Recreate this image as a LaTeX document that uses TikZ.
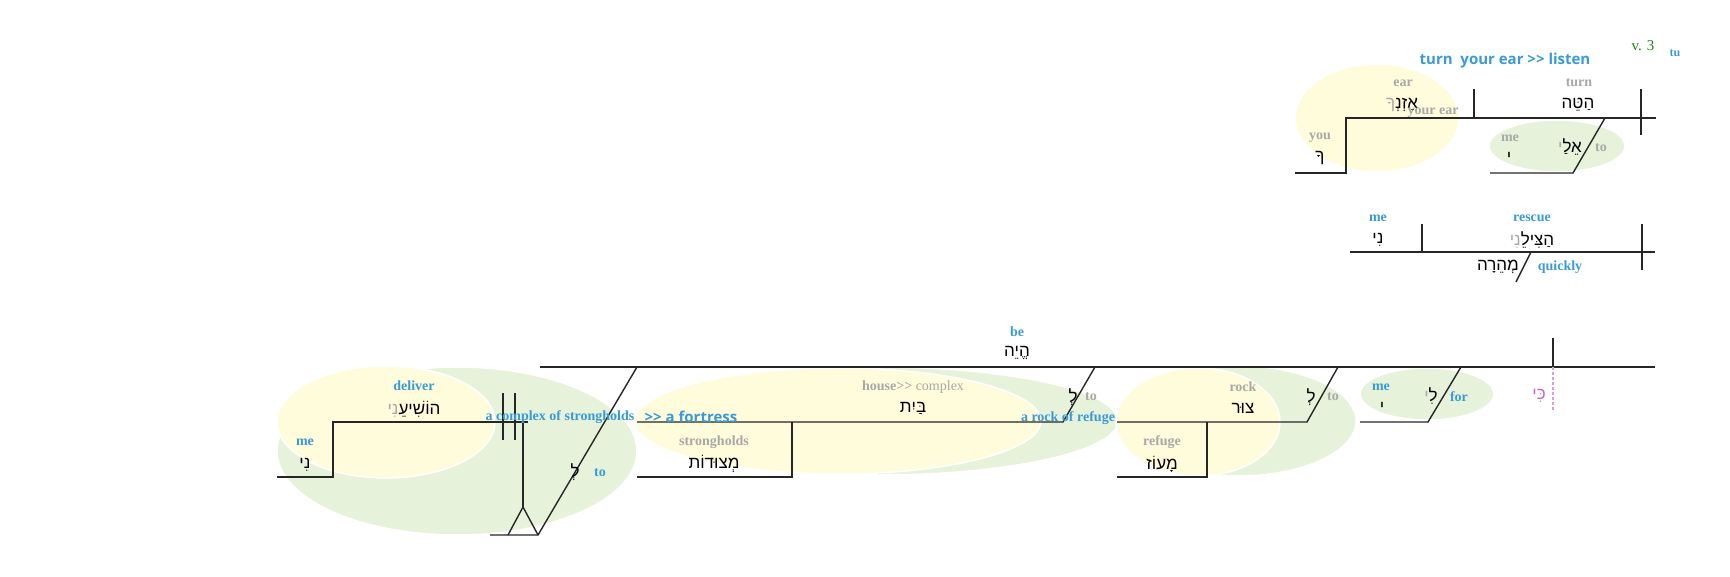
\documentclass[tikz,border=0pt]{standalone}
\usepackage{fontspec}
\setmainfont{Liberation Serif}
\newfontfamily\heb[Script=Hebrew]{Liberation Sans}
\newfontfamily\opsans{Open Sans}
\definecolor{lblue}{HTML}{3A9AD9}
\definecolor{lgray}{HTML}{A8A8A8}
\definecolor{vgreen}{HTML}{2E7D1E}
\definecolor{kipink}{HTML}{D064B4}
\definecolor{dashpink}{HTML}{E69CD2}
\definecolor{yelfill}{HTML}{FFFCDC}
\definecolor{grnfill}{HTML}{E6F2DA}
\tikzset{
  gl/.style={text=lgray,font=\bfseries\fontsize{14}{16}\selectfont,inner sep=0pt},
  bl/.style={text=lblue,font=\bfseries\fontsize{14}{16}\selectfont,inner sep=0pt},
  hb/.style={font=\heb\fontsize{17}{20}\selectfont,inner sep=0pt},
  ln/.style={line width=1.4pt,draw=black!85},
  yblob/.style={fill=yelfill,draw=white,line width=1.5pt},
  gblob/.style={fill=grnfill,draw=white,line width=1.5pt},
}
\begin{document}
\begin{tikzpicture}[x=1pt,y=-1pt]
  \useasboundingbox (0,0) rectangle (1730,577);
  % blobs
  \path[yblob] (1377,118) ellipse [x radius=82pt,y radius=54pt];
  \path[gblob] (1557,146) ellipse [x radius=68pt,y radius=26pt];
  \path[gblob] (457,451) ellipse [x radius=180pt,y radius=84pt];
  \path[yblob] (386,422) ellipse [x radius=109pt,y radius=56pt];
  \path[gblob] (878,421) ellipse [x radius=240pt,y radius=54pt];
  \path[yblob] (838,421) ellipse [x radius=203pt,y radius=53pt];
  \path[gblob] (1238,421) ellipse [x radius=118pt,y radius=55pt];
  \path[yblob] (1198,422) ellipse [x radius=82pt,y radius=54pt];
  \path[gblob] (1427,394) ellipse [x radius=67pt,y radius=26pt];

  % v. 3 a
  \coordinate (a0) at (1295,173);
  \coordinate (a1) at (1346,173);
  \coordinate (a2) at (1346,118);
  \coordinate (a3) at (1656,118);
  \coordinate (a4) at (1474,89);
  \coordinate (a5) at (1474,118);
  \coordinate (a6) at (1641,89);
  \coordinate (a7) at (1641,135);
  \coordinate (a8) at (1605,118);
  \coordinate (a9) at (1573,173);
  \coordinate (a10) at (1490,173);
  \draw[ln] (a0) -- (a1) -- (a2) -- (a3);
  \draw[ln] (a4) -- (a5);
  \draw[ln] (a6) -- (a7);
  \draw[ln] (a8) -- (a9) -- (a10);

  % v. 3 b
  \coordinate (b0) at (1350,252);
  \coordinate (b1) at (1655,252);
  \coordinate (b2) at (1422,224);
  \coordinate (b3) at (1422,252);
  \coordinate (b4) at (1642,224);
  \coordinate (b5) at (1642,270);
  \coordinate (b6) at (1531,252);
  \coordinate (b7) at (1516,282);
  \draw[ln] (b0) -- (b1);
  \draw[ln] (b2) -- (b3);
  \draw[ln] (b4) -- (b5);
  \draw[ln] (b6) -- (b7);

  % v. 3 c
  \coordinate (c0) at (540,367);
  \coordinate (c1) at (1655,367);
  \coordinate (c2) at (1553,338);
  \coordinate (c3) at (1553,367);
  \coordinate (c4) at (1553,412);
  \coordinate (c5) at (1461,367);
  \coordinate (c6) at (1428,422);
  \coordinate (c7) at (1360,422);
  \coordinate (c8) at (1338,367);
  \coordinate (c9) at (1307,422);
  \coordinate (c10) at (1117,422);
  \coordinate (c11) at (1207,422);
  \coordinate (c12) at (1207,477);
  \coordinate (c13) at (1117,477);
  \coordinate (c14) at (1095,367);
  \coordinate (c15) at (1063,422);
  \coordinate (c16) at (637,422);
  \coordinate (c17) at (792,422);
  \coordinate (c18) at (792,477);
  \coordinate (c19) at (637,477);
  \coordinate (c20) at (637,367);
  \coordinate (c21) at (538,535);
  \coordinate (c22) at (490,535);
  \coordinate (c23) at (523,507);
  \coordinate (c24) at (508,535);
  \coordinate (c25) at (523,422);
  \coordinate (c26) at (333,422);
  \coordinate (c27) at (528,422);
  \coordinate (c28) at (333,477);
  \coordinate (c29) at (277,477);
  \coordinate (c30) at (503,393);
  \coordinate (c31) at (503,440);
  \coordinate (c32) at (515,393);
  \coordinate (c33) at (515,440);
  \draw[ln] (c0) -- (c1);
  \draw[ln] (c2) -- (c3);
  \draw[dashpink,line width=1.2pt,dash pattern=on 3pt off 2pt] (c3) -- (c4);
  \draw[ln] (c5) -- (c6) -- (c7);
  \draw[ln] (c8) -- (c9) -- (c10);
  \draw[ln] (c11) -- (c12) -- (c13);
  \draw[ln] (c14) -- (c15) -- (c16);
  \draw[ln] (c17) -- (c18) -- (c19);
  \draw[ln] (c20) -- (c21) -- (c22);
  \draw[ln] (c23) -- (c24);
  \draw[ln] (c23) -- (c21);
  \draw[ln] (c25) -- (c23);
  \draw[ln] (c29) -- (c28) -- (c26) -- (c27);
  \draw[ln] (c30) -- (c31);
  \draw[ln] (c32) -- (c33);

  % texts v. 3 a
  \node[bl,font=\opsans\bfseries\fontsize{15}{18}\selectfont] (gloss) at (1505,61) {turn~ your ear >{}> listen};
  \node[text=vgreen,font=\fontsize{15}{18}\selectfont,inner sep=0pt] (vs) at (1643,46) {v. 3};
  \node[bl,font=\bfseries\fontsize{12}{14}\selectfont] (tu) at (1675,53) {tu};
  \node[gl] (ear) at (1403,83) {ear};
  \node[hb] (ozen) at (1402,105) {{\color{lgray}ךָ}אָזְנְ};
  \node[gl] (yourear) at (1433,113) {your ear};
  \node[gl] (turn) at (1579,83) {turn};
  \node[hb] (hatteh) at (1578,105) {הַטֵּה};
  \node[gl] (you) at (1320,138) {you};
  \node[hb] (ka) at (1320,158) {ךָ};
  \node[gl] (me1) at (1510,138) {me};
  \node[hb] (yod1) at (1509,157) {י};
  \node[hb] (elay) at (1570,147) {{\color{lgray}י}אֵלַ};
  \node[gl] (to1) at (1601,148) {to};

  % texts v. 3 b
  \node[bl] (me2) at (1378,218) {me};
  \node[hb] (ni1) at (1378,240) {נִי};
  \node[bl] (rescue) at (1532,218) {rescue};
  \node[hb] (hatsileni) at (1532,240) {{\color{lgray}נִי}הַצִּילֵ};
  \node[hb] (mehera) at (1498,267) {מְהֵרָה};
  \node[bl] (quickly) at (1560,267) {quickly};

  % texts v. 3 c
  \node[bl] (be) at (1017,332) {be};
  \node[hb] (heyeh) at (1017,353) {הֱיֵה};
  \node[bl] (me3) at (1381,387) {me};
  \node[hb] (yod2) at (1382,407) {י};
  \node[hb] (li) at (1431,396) {{\color{lgray}י}לִ};
  \node[bl] (for) at (1459,397) {for};
  \node[hb,text=kipink] (ki) at (1539,396) {כִּי};
  \node[gl] (rock) at (1243,387) {rock};
  \node[hb] (tsur) at (1243,408) {צוּר};
  \node[hb] (le1) at (1311,397) {לְ};
  \node[gl] (to2) at (1333,397) {to};
  \node[gl] (refuge) at (1162,442) {refuge};
  \node[hb] (maoz) at (1162,464) {מָעוֹז};
  \node[hb] (le2) at (1073,397) {לְ};
  \node[gl] (to3) at (1091,397) {to};
  \node[bl] (rockref) at (1068,418) {a rock of refuge};
  \node[gl] (house) at (913,387) {house>{}> {\mdseries complex}};
  \node[hb] (bayit) at (913,408) {בַּיִת};
  \node[gl] (strong) at (714,442) {strongholds};
  \node[hb] (metsudot) at (714,464) {מְצוּדוֹת};
  \node[bl,font=\opsans\bfseries\fontsize{15}{18}\selectfont] (fort) at (691,417) {>{}> a fortress};
  \node[bl] (complex) at (560,417) {a complex of strongholds};
  \node[bl] (deliver) at (414,386) {deliver};
  \node[hb] (hoshieni) at (414,409) {{\color{lgray}נִי}הוֹשִׁיעֵ};
  \node[bl] (me4) at (305,442) {me};
  \node[hb] (ni2) at (305,465) {נִי};
  \node[hb] (le3) at (575,472) {לְ};
  \node[bl] (to4) at (600,473) {to};
\end{tikzpicture}
\end{document}
